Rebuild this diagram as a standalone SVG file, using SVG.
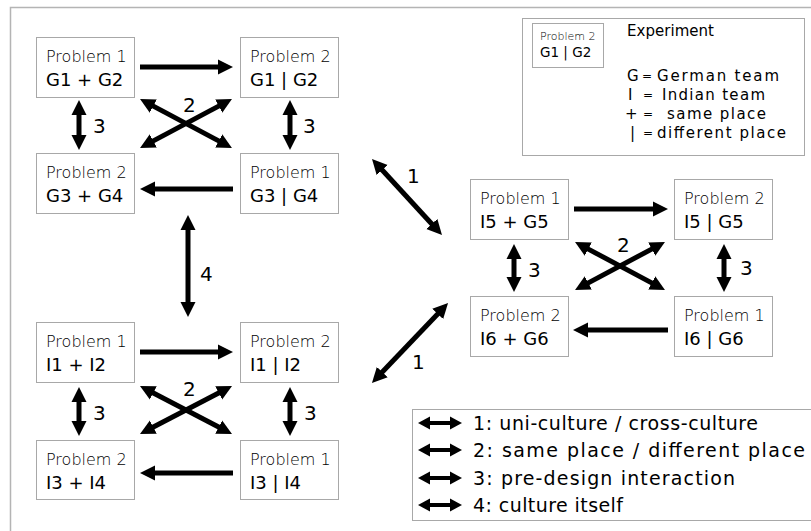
<svg xmlns="http://www.w3.org/2000/svg" width="811" height="531" viewBox="0 0 811 531">
<style>
.bg{fill:#fff}
.frame{fill:none;stroke:#b4b4b4;stroke-width:1.5}
.box{fill:#fff;stroke:#a8a8a8;stroke-width:1}
.p{font-family:"DejaVu Sans","Liberation Sans",sans-serif;font-size:16px;font-weight:300;fill:#000}
.g{font-family:"DejaVu Sans","Liberation Sans",sans-serif;font-size:18px;fill:#000}
.lbl{font-family:"DejaVu Sans","Liberation Sans",sans-serif;font-size:20px;fill:#000}
.leg{font-family:"DejaVu Sans","Liberation Sans",sans-serif;font-size:19px;fill:#000}
.key{font-family:"DejaVu Sans","Liberation Sans",sans-serif;font-size:15px;fill:#000}
.eq{font-family:"DejaVu Sans","Liberation Sans",sans-serif;font-size:12px;fill:#000}
.arr{stroke:#000;stroke-width:5;fill:none}
.one{marker-end:url(#ah)}
.two{marker-start:url(#ah);marker-end:url(#ah)}
.sarr{stroke:#000;stroke-width:4;fill:none;marker-start:url(#sh);marker-end:url(#sh)}
</style>
<defs>
<marker id="ah" markerUnits="userSpaceOnUse" viewBox="0 0 16 16" markerWidth="16" markerHeight="16" refX="1" refY="8" orient="auto-start-reverse"><path d="M0,0.5 L15,8 L0,15.5 z" fill="#000"/></marker>
<marker id="sh" markerUnits="userSpaceOnUse" viewBox="0 0 14 14" markerWidth="14" markerHeight="14" refX="1" refY="7" orient="auto-start-reverse"><path d="M0,0.5 L12,7 L0,13.5 z" fill="#000"/></marker>
</defs>
<rect class="bg" x="0" y="0" width="811" height="531"/>
<path class="frame" d="M10.5,531 L10.5,7.5 L811,7.5"/>

<g id="legend-key">
<rect class="box" x="522.5" y="18.5" width="282" height="137"/>
<rect class="box" x="532.5" y="23.5" width="71" height="44"/>
<text x="540" y="40" style="font-family:'DejaVu Sans',sans-serif;font-size:11px;font-weight:300;fill:#000">Problem 2</text>
<text x="540" y="57" style="font-family:'DejaVu Sans',sans-serif;font-size:13.5px">G1 | G2</text>
<text class="key" x="627" y="36" font-size="13" textLength="87">Experiment</text>
<text class="key" x="627" y="81">G</text><text class="eq" x="642" y="80">=</text><text class="key" x="657" y="81" textLength="122">German team</text>
<text class="key" x="628" y="100">I</text><text class="eq" x="643" y="99">=</text><text class="key" x="662" y="100" textLength="103">Indian team</text>
<text class="key" x="625" y="119">+</text><text class="eq" x="643" y="118">=</text><text class="key" x="667" y="119" textLength="99">same place</text>
<text class="key" x="630" y="138">|</text><text class="eq" x="643" y="137">=</text><text class="key" x="657" y="138" textLength="129">different place</text>
</g>

<g id="legend-arrows">
<rect class="box" x="412.5" y="409.5" width="420" height="111"/>
<line class="sarr" x1="429" y1="423" x2="451" y2="423"/>
<line class="sarr" x1="429" y1="450" x2="451" y2="450"/>
<line class="sarr" x1="429" y1="478" x2="451" y2="478"/>
<line class="sarr" x1="429" y1="505" x2="451" y2="505"/>
<text class="leg" x="473" y="430" textLength="285">1: uni-culture / cross-culture</text>
<text class="leg" x="473" y="457" textLength="332">2: same place / different place</text>
<text class="leg" x="473" y="485" textLength="262">3: pre-design interaction</text>
<text class="leg" x="473" y="512" textLength="150">4: culture itself</text>
</g>

<g id="n1"><rect class="box" x="36.5" y="37.5" width="98" height="60"/><text class="p" x="46" y="62">Problem 1</text><text class="g" x="46" y="86">G1 + G2</text></g>
<g id="n2"><rect class="box" x="240.5" y="37.5" width="98" height="60"/><text class="p" x="250" y="62">Problem 2</text><text class="g" x="250" y="86">G1 | G2</text></g>
<g id="n3"><rect class="box" x="36.5" y="153.5" width="98" height="60"/><text class="p" x="46" y="178">Problem 2</text><text class="g" x="46" y="202">G3 + G4</text></g>
<g id="n4"><rect class="box" x="240.5" y="153.5" width="98" height="60"/><text class="p" x="250" y="178">Problem 1</text><text class="g" x="250" y="202">G3 | G4</text></g>

<g id="n5"><rect class="box" x="36.5" y="322.5" width="98" height="60"/><text class="p" x="46" y="347">Problem 1</text><text class="g" x="46" y="371">I1 + I2</text></g>
<g id="n6"><rect class="box" x="240.5" y="322.5" width="98" height="60"/><text class="p" x="250" y="347">Problem 2</text><text class="g" x="250" y="371">I1 | I2</text></g>
<g id="n7"><rect class="box" x="36.5" y="440.5" width="98" height="59"/><text class="p" x="46" y="465">Problem 2</text><text class="g" x="46" y="489">I3 + I4</text></g>
<g id="n8"><rect class="box" x="240.5" y="440.5" width="98" height="59"/><text class="p" x="250" y="465">Problem 1</text><text class="g" x="250" y="489">I3 | I4</text></g>

<g id="n9"><rect class="box" x="470.5" y="179.5" width="98" height="60"/><text class="p" x="480" y="204">Problem 1</text><text class="g" x="480" y="228">I5 + G5</text></g>
<g id="n10"><rect class="box" x="674.5" y="179.5" width="98" height="60"/><text class="p" x="684" y="204">Problem 2</text><text class="g" x="684" y="228">I5 | G5</text></g>
<g id="n11"><rect class="box" x="470.5" y="296.5" width="98" height="60"/><text class="p" x="480" y="321">Problem 2</text><text class="g" x="480" y="345">I6 + G6</text></g>
<g id="n12"><rect class="box" x="674.5" y="296.5" width="98" height="60"/><text class="p" x="684" y="321">Problem 1</text><text class="g" x="684" y="345">I6 | G6</text></g>

<g id="connectors">
<line class="arr one" x1="140" y1="67" x2="219" y2="67"/>
<line class="arr one" x1="233" y1="189" x2="154" y2="189"/>
<line class="arr two" x1="79" y1="114" x2="79" y2="136"/>
<line class="arr two" x1="290" y1="114" x2="290" y2="136"/>
<line class="arr two" x1="152.4" y1="105.6" x2="219.6" y2="141.4"/>
<line class="arr two" x1="219.6" y1="105.6" x2="152.4" y2="141.4"/>
<line class="arr two" x1="188" y1="229" x2="188" y2="303"/>
<line class="arr two" x1="381.5" y1="169.3" x2="432.5" y2="224.7"/>
<line class="arr two" x1="381.6" y1="372.8" x2="438.4" y2="313.2"/>
<line class="arr one" x1="574" y1="209" x2="654" y2="209"/>
<line class="arr one" x1="668" y1="330" x2="587" y2="330"/>
<line class="arr two" x1="514" y1="258" x2="514" y2="278"/>
<line class="arr two" x1="724" y1="258" x2="724" y2="278"/>
<line class="arr two" x1="587.4" y1="248.6" x2="652.6" y2="283.4"/>
<line class="arr two" x1="652.6" y1="248.6" x2="587.4" y2="283.4"/>
<line class="arr one" x1="140" y1="352" x2="219" y2="352"/>
<line class="arr one" x1="233" y1="473" x2="154" y2="473"/>
<line class="arr two" x1="79" y1="401" x2="79" y2="422"/>
<line class="arr two" x1="290" y1="401" x2="290" y2="422"/>
<line class="arr two" x1="152.4" y1="392.5" x2="219.6" y2="427.5"/>
<line class="arr two" x1="219.6" y1="392.5" x2="152.4" y2="427.5"/>
<text class="lbl" x="93" y="133">3</text>
<text class="lbl" x="303" y="133">3</text>
<text class="lbl" x="183" y="112">2</text>
<text class="lbl" x="200" y="281">4</text>
<text class="lbl" x="407" y="183">1</text>
<text class="lbl" x="412" y="369">1</text>
<text class="lbl" x="528" y="277">3</text>
<text class="lbl" x="740" y="275">3</text>
<text class="lbl" x="617" y="252">2</text>
<text class="lbl" x="93" y="420">3</text>
<text class="lbl" x="304" y="420">3</text>
<text class="lbl" x="183" y="396">2</text>
</g>
</svg>
